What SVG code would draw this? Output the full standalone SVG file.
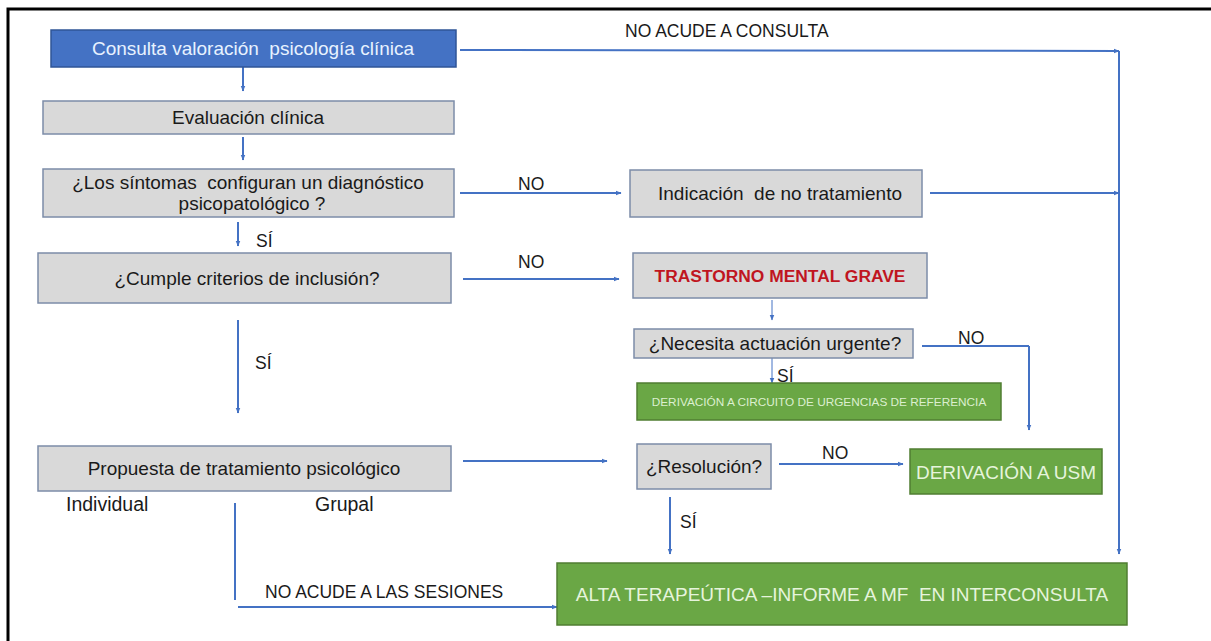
<svg xmlns="http://www.w3.org/2000/svg" width="1211" height="641" viewBox="0 0 1211 641">
<defs>
<marker id="ah" viewBox="0 0 10 10" refX="9" refY="5" markerWidth="6" markerHeight="6" markerUnits="userSpaceOnUse" orient="auto">
<path d="M0,1 L10,5 L0,9 z" fill="#4472c4"/>
</marker>
<style>
text{font-family:"Liberation Sans",Arial,sans-serif;}
.gray{fill:#d9d9d9;stroke:#7c8ca8;stroke-width:1.5;}
.blue{fill:#4472c4;stroke:#2f5597;stroke-width:1.5;}
.green{fill:#6aa745;stroke:#507e32;stroke-width:1.5;}
.t{font-size:19px;fill:#1a1a1a;text-anchor:middle;}
.tw{font-size:19px;fill:#e8f2ff;text-anchor:middle;}
.tg{font-size:19px;fill:#e6f4dc;text-anchor:middle;}
.lbl{font-size:17.5px;fill:#1a1a1a;}
.lbl2{font-size:19.5px;fill:#1a1a1a;}
.c{fill:none;stroke:#4472c4;stroke-width:2;}
.ca{fill:none;stroke:#4472c4;stroke-width:2;marker-end:url(#ah);}
.cs{fill:none;stroke:#4472c4;stroke-width:1;marker-end:url(#ah);}
</style>
</defs>
<rect width="1211" height="641" fill="#ffffff"/>
<path d="M8,641 L8,9 L1211,9" fill="none" stroke="#000" stroke-width="3"/>

<g id="connectors">
<path class="ca" d="M243,67 L243,91"/>
<path class="ca" d="M243,137 L243,160"/>
<path class="ca" d="M238,222 L238,246"/>
<path class="ca" d="M238,320 L238,413"/>
<path class="c" d="M235,503 L235,600"/>
<path class="ca" d="M238,607 L557,607"/>
<path class="ca" d="M460,50 L1119,51"/>
<path class="ca" d="M1119,51 L1119,554"/>
<path class="ca" d="M460,193 L621,193"/>
<path class="ca" d="M930,193 L1119,193"/>
<path class="ca" d="M463,279 L619,279"/>
<path class="cs" d="M772,300 L772,320"/>
<path class="c" d="M922,346 L1029,346"/>
<path class="ca" d="M1029,346 L1029,430"/>
<path class="cs" d="M772,358 L772,383"/>
<path class="ca" d="M463,461 L607,461"/>
<path class="ca" d="M779,464 L903,464"/>
<path class="ca" d="M670,497 L670,554"/>
</g>

<g id="labels">
<text class="lbl" x="625" y="37">NO ACUDE A CONSULTA</text>
<text class="lbl" x="518" y="190">NO</text>
<text class="lbl" x="518" y="268">NO</text>
<text class="lbl" x="256" y="247">SÍ</text>
<text class="lbl" x="255" y="369">SÍ</text>
<text class="lbl" x="958" y="344">NO</text>
<text class="lbl" x="777" y="382">SÍ</text>
<text class="lbl" x="822" y="459">NO</text>
<text class="lbl" x="680" y="528">SÍ</text>
<text class="lbl2" x="66" y="511">Individual</text>
<text class="lbl2" x="315" y="511">Grupal</text>
<text class="lbl" x="265" y="598">NO ACUDE A LAS SESIONES</text>
</g>

<g id="n_consulta">
<rect class="blue" x="51" y="30" width="405" height="37"/>
<text class="tw" x="253" y="55" xml:space="preserve">Consulta valoración  psicología clínica</text>
</g>
<g id="n_evaluacion">
<rect class="gray" x="43" y="101" width="411" height="33"/>
<text class="t" x="248" y="124">Evaluación clínica</text>
</g>
<g id="n_sintomas">
<rect class="gray" x="43" y="169" width="411" height="48"/>
<text class="t" x="248" y="189" xml:space="preserve">¿Los síntomas  configuran un diagnóstico</text>
<text class="t" x="252" y="210">psicopatológico ?</text>
</g>
<g id="n_cumple">
<rect class="gray" x="38" y="253" width="413" height="50"/>
<text class="t" x="247" y="285">¿Cumple criterios de inclusión?</text>
</g>
<g id="n_propuesta">
<rect class="gray" x="38" y="446" width="413" height="45"/>
<text class="t" x="244" y="475">Propuesta de tratamiento psicológico</text>
</g>
<g id="n_indicacion">
<rect class="gray" x="630" y="170" width="292" height="47"/>
<text class="t" x="780" y="200" font-size="19.5" xml:space="preserve">Indicación  de no tratamiento</text>
</g>
<g id="n_tmg">
<rect class="gray" x="633" y="253" width="294" height="45"/>
<text x="780" y="282" text-anchor="middle" font-size="17.4" font-weight="bold" fill="#c0151f">TRASTORNO MENTAL GRAVE</text>
</g>
<g id="n_urgente">
<rect class="gray" x="634" y="329" width="279" height="29"/>
<text class="t" x="775" y="350">¿Necesita actuación urgente?</text>
</g>
<g id="n_circuito">
<rect class="green" x="637" y="383" width="364" height="37"/>
<text x="819" y="406" text-anchor="middle" font-size="11.8" fill="#dcefcf">DERIVACIÓN A CIRCUITO DE URGENCIAS DE REFERENCIA</text>
</g>
<g id="n_resolucion">
<rect class="gray" x="637" y="444" width="134" height="45"/>
<text class="t" x="704" y="473">¿Resolución?</text>
</g>
<g id="n_usm">
<rect class="green" x="910" y="449" width="192" height="45"/>
<text class="tg" x="1006" y="479" font-size="18">DERIVACIÓN A USM</text>
</g>
<g id="n_alta">
<rect class="green" x="557" y="563" width="570" height="62"/>
<text class="tg" x="842" y="601" xml:space="preserve">ALTA TERAPEÚTICA –INFORME A MF  EN INTERCONSULTA</text>
</g>
</svg>
